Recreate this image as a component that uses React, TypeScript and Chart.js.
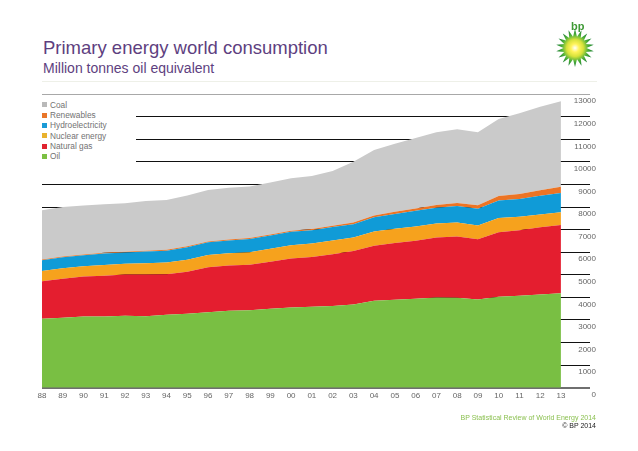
import React, { useEffect, useRef } from 'react';
import { Chart, registerables } from 'chart.js';

Chart.register(...registerables);

const years = [1988, 1989, 1990, 1991, 1992, 1993, 1994, 1995, 1996, 1997, 1998, 1999, 2000, 2001, 2002, 2003, 2004, 2005, 2006, 2007, 2008, 2009, 2010, 2011, 2012, 2013];
const oil = [3050, 3100, 3150, 3150, 3190, 3170, 3230, 3270, 3340, 3410, 3430, 3500, 3550, 3580, 3620, 3690, 3850, 3900, 3940, 4000, 3980, 3910, 4030, 4070, 4130, 4185];
const naturalGas = [1670, 1730, 1770, 1810, 1820, 1840, 1800, 1870, 1990, 2000, 2020, 2080, 2170, 2210, 2290, 2360, 2440, 2510, 2570, 2650, 2720, 2660, 2860, 2900, 2980, 3020];
const nuclear = [450, 465, 455, 480, 480, 500, 510, 525, 545, 540, 550, 570, 585, 600, 610, 600, 625, 627, 635, 622, 620, 614, 626, 600, 560, 563];
const hydro = [480, 485, 490, 500, 500, 525, 530, 560, 565, 575, 585, 590, 600, 585, 595, 595, 630, 660, 690, 700, 725, 740, 780, 790, 830, 856];
const renewables = [25, 27, 30, 32, 33, 35, 36, 38, 40, 42, 45, 48, 52, 57, 62, 70, 80, 93, 105, 120, 140, 160, 190, 215, 245, 279];
const coal = [2180, 2200, 2170, 2150, 2150, 2200, 2210, 2250, 2280, 2290, 2280, 2300, 2320, 2350, 2420, 2690, 2900, 3020, 3120, 3220, 3260, 3230, 3410, 3580, 3700, 3790];

const seriesNames = ['Oil', 'Natural gas', 'Nuclear energy', 'Hydroelectricity', 'Renewables', 'Coal'];
const seriesValues = [oil, naturalGas, nuclear, hydro, renewables, coal];
const seriesColors = ['#79bf43', '#e41e2f', '#f6a21d', '#109bd7', '#ec7424', '#cacaca'];
const legendColors = ['#7cc043', '#e0242f', '#e9b22e', '#1a9ad6', '#e8762a', '#b9b9b9'];

const yMax = 13000;
const yStep = 1000;
const xMax = 2014.4;

const FONT = '"Liberation Sans", Arial, Helvetica, sans-serif';

export default function App() {
  const canvasRef = useRef<HTMLCanvasElement | null>(null);

  useEffect(() => {
    document.body.style.margin = '0';
    const canvas = canvasRef.current;
    if (!canvas) return;

    const datasets = seriesValues.map((vals, i) => ({
      label: seriesNames[i],
      data: vals.map((v, j) => ({ x: years[j], y: v })),
      backgroundColor: seriesColors[i],
      borderColor: 'rgba(0,0,0,0)',
      borderWidth: 0,
      pointRadius: 0,
      pointHoverRadius: 0,
      tension: 0,
      fill: i === 0 ? 'origin' : '-1',
    }));

    const chart = new Chart(canvas, {
      type: 'line',
      data: { datasets },
      options: {
        animation: false,
        responsive: false,
        maintainAspectRatio: false,
        events: [],
        layout: { padding: { left: 42, right: 48, top: 94.2, bottom: 43.3 } },
        plugins: {
          legend: { display: false },
          tooltip: { enabled: false },
          title: { display: false },
        },
        scales: {
          x: {
            type: 'linear',
            min: years[0],
            max: xMax,
            border: { display: false },
            grid: { display: false, drawTicks: false },
            afterFit: (scale: any) => { scale.height = 20; },
            ticks: {
              stepSize: 1,
              autoSkip: false,
              maxRotation: 0,
              padding: 3,
              color: '#666',
              font: { family: FONT, size: 8 },
              callback: (v: any) => {
                const n = Number(v);
                if (n > years[years.length - 1] || !Number.isInteger(n)) return '';
                return String(n % 100).padStart(2, '0');
              },
            },
          },
          y: {
            type: 'linear',
            position: 'right',
            stacked: true,
            min: 0,
            max: yMax,
            border: { display: false },
            afterFit: (scale: any) => { scale.width = 0; },
            grid: {
              drawTicks: false,
              color: (c: any) => (c.tick.value === 0 ? '#6f6f6f' : c.tick.value === yMax ? '#a8a8a8' : '#111'),
              lineWidth: (c: any) => (c.tick.value === 0 ? 2 : 1),
            },
            ticks: {
              stepSize: yStep,
              mirror: true,
              padding: 6,
              crossAlign: 'near',
              labelOffset: 7,
              color: '#666',
              font: { family: FONT, size: 8 },
              callback: (v: any) => String(v),
            },
          },
        },
      } as any,
    });
    return () => chart.destroy();
  }, []);

  const legendOrder = [5, 4, 3, 2, 1, 0];

  return (
    <div style={{ position: 'absolute', left: 0, top: 0, width: 638, height: 451, background: '#fff', overflow: 'hidden', fontFamily: FONT }}>
      <div style={{ position: 'absolute', left: 43, top: 37.5, fontSize: 18.5, lineHeight: '19px', color: '#5e3f80', whiteSpace: 'nowrap' }}>
        Primary energy world consumption
      </div>
      <div style={{ position: 'absolute', left: 43, top: 60.6, fontSize: 14, lineHeight: '14px', color: '#5e3f80', whiteSpace: 'nowrap' }}>
        Million tonnes oil equivalent
      </div>
      <div style={{ position: 'absolute', left: 42, top: 81, width: 555, height: 1, background: '#eef0e8' }} />
      <canvas ref={canvasRef} width={638} height={451} style={{ position: 'absolute', left: 0, top: 0, width: 638, height: 451 }} />
      <div style={{ position: 'absolute', left: 40, top: 99.8, width: 96, height: 64, background: '#fff' }}>
        {legendOrder.map((i) => (
          <div key={seriesNames[i]} style={{ position: 'relative', height: 10.3, lineHeight: '10.3px', fontSize: 8.3, color: '#727272', whiteSpace: 'nowrap' }}>
            <span style={{ position: 'absolute', left: 2, top: 2.6, width: 5, height: 5, background: legendColors[i] }} />
            <span style={{ position: 'absolute', left: 10, top: 0 }}>{seriesNames[i]}</span>
          </div>
        ))}
      </div>
      <svg style={{ position: 'absolute', left: 553, top: 26 }} width={44} height={44} viewBox="0 0 44 44">
        <defs>
          <radialGradient id="helios" cx="50%" cy="50%" r="50%">
            <stop offset="0%" stopColor="#ffffff" />
            <stop offset="22%" stopColor="#fff35a" />
            <stop offset="45%" stopColor="#d6e23a" />
            <stop offset="70%" stopColor="#4fb03a" />
            <stop offset="100%" stopColor="#137a2e" />
          </radialGradient>
        </defs>
        <polygon
          fill="url(#helios)"
          points={Array.from({ length: 36 }, (_, k) => {
            const a = (k * Math.PI) / 18 - Math.PI / 2;
            const r = k % 2 === 0 ? 19 : 11.5;
            return `${(22 + r * Math.cos(a)).toFixed(2)},${(22 + r * Math.sin(a)).toFixed(2)}`;
          }).join(' ')}
        />
      </svg>
      <div style={{ position: 'absolute', left: 571, top: 21, fontSize: 11, lineHeight: '11px', color: '#3f9a36', fontWeight: 'bold' }}>bp</div>
      <div style={{ position: 'absolute', right: 42, top: 414, fontSize: 7, lineHeight: '8px', color: '#8cc152', whiteSpace: 'nowrap', textAlign: 'right' }}>
        BP Statistical Review of World Energy 2014
      </div>
      <div style={{ position: 'absolute', right: 42, top: 422, fontSize: 7, lineHeight: '8px', color: '#222', whiteSpace: 'nowrap', textAlign: 'right' }}>
        © BP 2014
      </div>
    </div>
  );
}
